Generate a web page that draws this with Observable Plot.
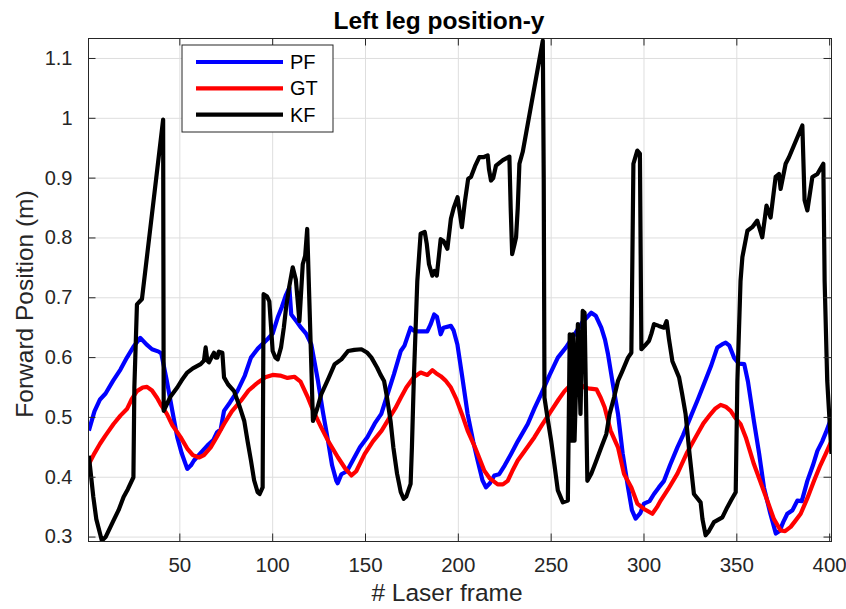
<!DOCTYPE html>
<html><head><meta charset="utf-8">
<script src="https://cdn.jsdelivr.net/npm/d3@7"></script>
<script src="https://cdn.jsdelivr.net/npm/@observablehq/plot@0.6"></script>
<style>body{margin:0;background:#fff;}</style>
</head><body><div id="chart"></div>
<script>
// ---- data (frame, forward position in m) ----
const pf = [[1,0.478],[4,0.51],[7,0.53],[10,0.54],[14,0.561],[18,0.58],[21.5,0.6],[25,0.618],[28.7,0.633],[32,0.622],[35,0.614],[38.6,0.61],[40,0.607],[43,0.561],[46,0.51],[48.6,0.467],[51,0.44],[54,0.414],[56,0.42],[57.6,0.428],[61,0.44],[64.8,0.453],[68,0.462],[70,0.475],[72,0.48],[73.8,0.511],[77,0.525],[81,0.544],[85,0.57],[88.3,0.6],[92,0.615],[97.3,0.631],[100,0.64],[102.7,0.667],[105,0.685],[107.2,0.705],[109,0.717],[110,0.672],[113,0.66],[115.3,0.65],[118,0.64],[120.8,0.622],[124.4,0.561],[127,0.51],[129.8,0.461],[132,0.42],[134.3,0.394],[135,0.39],[137,0.405],[140,0.41],[144,0.433],[147,0.45],[151,0.467],[155,0.49],[158.5,0.506],[162,0.54],[165.3,0.572],[169,0.611],[171,0.62],[174.3,0.65],[176,0.645],[178,0.644],[183.3,0.644],[185,0.655],[187,0.672],[188.5,0.668],[190.5,0.639],[192,0.65],[196,0.653],[197.5,0.645],[199.5,0.622],[202,0.57],[205,0.506],[208,0.46],[210.4,0.428],[213,0.395],[214.9,0.383],[217,0.39],[219.4,0.403],[222,0.405],[225,0.42],[228.4,0.439],[232,0.46],[237.4,0.489],[241,0.515],[244.6,0.539],[249,0.57],[253.6,0.6],[258,0.617],[262.6,0.639],[267,0.66],[271.6,0.675],[274,0.67],[277,0.65],[279,0.63],[280.6,0.606],[283,0.56],[286,0.506],[288.5,0.44],[291.4,0.383],[293.5,0.345],[295.5,0.331],[298,0.34],[300,0.356],[303,0.36],[305.4,0.372],[308,0.383],[310.8,0.394],[314,0.42],[318,0.45],[321,0.47],[325,0.5],[329,0.53],[332.3,0.556],[336,0.585],[339.5,0.617],[342,0.622],[344,0.625],[346,0.62],[348.5,0.6],[351,0.59],[354,0.589],[356,0.56],[359.2,0.494],[362,0.44],[364.6,0.383],[368,0.34],[371,0.306],[373,0.31],[375,0.325],[377.2,0.339],[380,0.345],[382.6,0.361],[385,0.36],[388,0.394],[391,0.42],[393.4,0.444],[396,0.46],[398,0.475],[401,0.5]];

const gt = [[1,0.422],[4,0.44],[7,0.456],[10,0.47],[14.3,0.489],[18,0.503],[21.5,0.514],[24,0.53],[26.9,0.544],[30,0.55],[32.3,0.551],[35,0.545],[37.7,0.533],[40,0.52],[43,0.506],[46,0.487],[50.4,0.467],[54,0.448],[57,0.437],[60.3,0.433],[63,0.437],[66.6,0.45],[70,0.468],[73.8,0.489],[78,0.51],[82.9,0.528],[87,0.545],[91.9,0.558],[96,0.567],[100,0.571],[104,0.57],[108,0.566],[111.7,0.568],[115,0.56],[119,0.533],[122,0.51],[126.2,0.483],[130,0.46],[135.2,0.433],[139,0.415],[142.4,0.403],[145,0.41],[149.6,0.439],[154,0.46],[158.7,0.478],[163,0.5],[166,0.515],[169,0.533],[172,0.55],[176,0.567],[179.7,0.575],[183.3,0.571],[186,0.579],[188,0.574],[190.5,0.569],[193,0.562],[196,0.55],[199,0.53],[202,0.505],[205,0.478],[209,0.45],[214,0.411],[217,0.398],[221.2,0.388],[224,0.388],[226.6,0.394],[229,0.41],[232,0.428],[236,0.445],[241,0.467],[245,0.487],[250,0.511],[254,0.53],[257.2,0.544],[262.6,0.561],[265,0.557],[268,0.55],[271,0.548],[274.4,0.547],[276.7,0.533],[278.8,0.517],[282,0.478],[286,0.45],[289.2,0.406],[293.2,0.383],[296.4,0.356],[300,0.347],[304.5,0.339],[307,0.35],[309,0.361],[313,0.38],[318,0.406],[323,0.44],[328.7,0.472],[332,0.49],[336,0.506],[338.5,0.515],[341.3,0.521],[344,0.518],[346.7,0.511],[349,0.5],[352,0.489],[355,0.465],[359.2,0.422],[363,0.39],[366.4,0.361],[370,0.33],[373.6,0.311],[376,0.31],[379,0.317],[381,0.325],[384.4,0.339],[388,0.365],[391.6,0.394],[395,0.42],[398,0.44],[401,0.461]];

const kf = [[1,0.436],[3.4,0.367],[5,0.33],[8,0.294],[10,0.3],[14.3,0.328],[17,0.345],[19.7,0.367],[22,0.38],[25,0.4],[25.5,0.55],[26.9,0.689],[29.6,0.698],[41,0.998],[41.3,0.511],[43,0.522],[45,0.535],[48.6,0.55],[51,0.562],[54,0.575],[57,0.582],[61.2,0.589],[63,0.595],[63.9,0.617],[64.8,0.595],[65.7,0.592],[67,0.6],[68.4,0.608],[69.3,0.6],[70.2,0.6],[71,0.61],[72.9,0.608],[73.8,0.567],[76,0.555],[79.2,0.544],[82,0.52],[84.7,0.494],[86.5,0.46],[88.3,0.428],[90,0.395],[91.9,0.375],[93,0.372],[94.6,0.383],[95.1,0.706],[97,0.702],[98.2,0.694],[100,0.611],[101.5,0.6],[102.7,0.597],[104.5,0.617],[106,0.65],[107.2,0.683],[109,0.72],[110.8,0.751],[112.5,0.73],[114.4,0.661],[116.2,0.756],[117.5,0.77],[118.6,0.815],[121.7,0.494],[124,0.515],[126.2,0.539],[130,0.565],[133.4,0.589],[137,0.597],[140.6,0.611],[144,0.613],[147.8,0.614],[151,0.608],[153.2,0.6],[156.3,0.583],[158,0.572],[160,0.561],[161.5,0.535],[163.5,0.494],[165,0.45],[167,0.406],[169,0.375],[170.6,0.364],[172,0.368],[174.3,0.389],[175,0.45],[176,0.561],[177.9,0.728],[179.7,0.807],[181.9,0.81],[183,0.79],[184.2,0.756],[186,0.737],[187.2,0.745],[188.4,0.737],[190.5,0.798],[192,0.795],[194.1,0.782],[196,0.832],[197.5,0.85],[199.6,0.868],[201.9,0.818],[203.5,0.86],[205.3,0.899],[206.8,0.902],[209,0.92],[211.3,0.935],[213.5,0.935],[215.8,0.938],[216.5,0.915],[217.6,0.896],[218.8,0.9],[220.3,0.921],[224,0.93],[227.5,0.936],[228.2,0.85],[229,0.773],[230.3,0.79],[231.1,0.801],[232,0.85],[232.9,0.924],[234.7,0.944],[245.5,1.13],[246,0.9],[246.4,0.533],[248,0.5],[250,0.461],[251.8,0.42],[253.6,0.378],[256.3,0.358],[259,0.361],[259.5,0.5],[260,0.639],[261.2,0.461],[261.7,0.639],[262.6,0.461],[264,0.62],[264.4,0.656],[265.8,0.506],[267,0.678],[268,0.675],[269.5,0.394],[271.6,0.406],[274,0.425],[277,0.45],[279.7,0.472],[281.5,0.506],[284,0.535],[286,0.561],[288,0.575],[291.4,0.6],[293.2,0.608],[294.3,0.924],[296.4,0.946],[297.8,0.941],[298.6,0.614],[300.5,0.62],[302.7,0.628],[304,0.64],[305.4,0.656],[308,0.653],[310.8,0.65],[312.2,0.661],[313.5,0.63],[315.3,0.594],[318.9,0.567],[320.5,0.54],[322.4,0.506],[324.5,0.44],[326.9,0.372],[330.5,0.358],[331.5,0.33],[333.2,0.303],[335,0.31],[337.7,0.325],[342.2,0.333],[344.9,0.35],[347,0.362],[349.4,0.375],[350.3,0.561],[352,0.728],[353,0.768],[355.7,0.812],[358.3,0.818],[361,0.829],[363.7,0.801],[366,0.854],[368.2,0.834],[370.9,0.902],[372.7,0.907],[373.6,0.882],[376.3,0.924],[378.1,0.935],[385.3,0.988],[386.5,0.863],[388,0.846],[390.7,0.902],[393.4,0.907],[396.6,0.924],[397.3,0.728],[398.7,0.561],[401,0.439]];

const seriesNames = ["PF", "GT", "KF"];
const seriesColors = ["#0000ff", "#ff0000", "#000000"];
const xTicks = [50, 100, 150, 200, 250, 300, 350, 400];
const yTicks = [0.3, 0.4, 0.5, 0.6, 0.7, 0.8, 0.9, 1.0, 1.1];
const yTickLabels = ["0.3", "0.4", "0.5", "0.6", "0.7", "0.8", "0.9", "1", "1.1"];
const titleText = "Left leg position-y";
const xLabel = "# Laser frame";
const yLabel = "Forward Position (m)";

// ---- layout ----
const W = 846, H = 609, mL = 88, mR = 15, mT = 38, mB = 68;
const xDom = [0.8, 401], yDom = [0.2926, 1.1334];
const tickLen = 7.5;
const xPerPx = (xDom[1] - xDom[0]) / (W - mL - mR);
const yPerPx = (yDom[1] - yDom[0]) / (H - mT - mB);
const axisColor = "#262626";
const font = "'Liberation Sans', Arial, Helvetica, sans-serif";

const series = [pf, gt, kf];
const lineMarks = series.map((s, i) => Plot.line(s, {
  x: d => d[0], y: d => d[1], stroke: seriesColors[i], strokeWidth: 4.2,
  strokeLinejoin: "round", strokeLinecap: "butt", clip: true
}));

const chart = Plot.plot({
  width: W, height: H,
  marginLeft: mL, marginRight: mR, marginTop: mT, marginBottom: mB,
  style: {fontFamily: font, fontSize: "20px", color: axisColor, background: "#fff"},
  x: {domain: xDom},
  y: {domain: yDom},
  marks: [
    Plot.gridX(xTicks, {stroke: "#dedede", strokeOpacity: 1, strokeWidth: 1}),
    Plot.gridY(yTicks, {stroke: "#dedede", strokeOpacity: 1, strokeWidth: 1}),
    ...lineMarks,
    // inward ticks (MATLAB style), all four sides
    Plot.ruleX(xTicks, {y1: yDom[0], y2: yDom[0] + tickLen * yPerPx, stroke: axisColor}),
    Plot.ruleX(xTicks, {y1: yDom[1], y2: yDom[1] - tickLen * yPerPx, stroke: axisColor}),
    Plot.ruleY(yTicks, {x1: xDom[0], x2: xDom[0] + tickLen * xPerPx, stroke: axisColor}),
    Plot.ruleY(yTicks, {x1: xDom[1], x2: xDom[1] - tickLen * xPerPx, stroke: axisColor}),
    Plot.frame({stroke: axisColor, strokeWidth: 1}),
    Plot.axisX(xTicks, {anchor: "bottom", tickSize: 0, tickPadding: 16, label: null, fill: axisColor, fontSize: 20.5}),
    Plot.axisY(yTicks, {anchor: "left", tickSize: 0, tickPadding: 16, label: null, fill: axisColor, fontSize: 20,
      tickFormat: d => yTickLabels[yTicks.indexOf(d)]}),
    Plot.text([titleText], {frameAnchor: "top", textAnchor: "middle", dx: -21, dy: -10, lineAnchor: "bottom", fontWeight: "bold", fontSize: 24.5, fill: "#000"}),
    Plot.text([xLabel], {frameAnchor: "bottom", textAnchor: "middle", dx: -13, dy: 59, lineAnchor: "bottom", fontSize: 24.5, fill: axisColor}),
    Plot.text([yLabel], {frameAnchor: "left", textAnchor: "middle", dx: -56, dy: 14, rotate: -90, lineAnchor: "bottom", fontSize: 24.5, fill: axisColor})
  ]
});

// ---- legend ----
const svg = d3.select(chart);
const lg = svg.append("g").attr("class", "legend");
const lx = 182, ly = 45, lw = 151, lh = 87;
lg.append("rect").attr("x", lx).attr("y", ly).attr("width", lw).attr("height", lh)
  .attr("fill", "#fff").attr("stroke", axisColor).attr("stroke-width", 1);
seriesNames.forEach((name, i) => {
  const yy = 62 + i * 26.3;
  lg.append("line").attr("x1", 196).attr("x2", 283).attr("y1", yy).attr("y2", yy)
    .attr("stroke", seriesColors[i]).attr("stroke-width", 4.2);
  lg.append("text").attr("x", 290).attr("y", yy).attr("dy", "0.35em")
    .attr("text-anchor", "start")
    .attr("font-size", 20).attr("font-family", font).attr("fill", "#000").text(name);
});

document.getElementById("chart").appendChild(chart);
</script>
</body></html>
